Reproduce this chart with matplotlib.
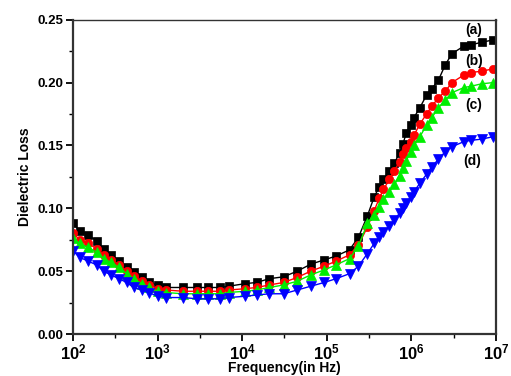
import matplotlib
matplotlib.use("Agg")
import matplotlib.pyplot as plt
from matplotlib.ticker import FixedLocator, MultipleLocator, FixedFormatter

plt.rcParams['font.family'] = ['Liberation Sans', 'DejaVu Sans']
plt.rcParams['mathtext.fontset'] = 'custom'
plt.rcParams['mathtext.rm'] = 'Liberation Sans:bold'
plt.rcParams['mathtext.bf'] = 'Liberation Sans:bold'

freq = [100, 120, 150, 190, 230, 280, 350, 430, 520, 650, 790, 1000, 1260,
        2000, 2900, 3900, 5500, 6900, 10700, 14800,
        20900, 30900, 44700, 64600, 93300, 129000, 186000,
        237000, 302000, 363000, 417000, 468000, 550000, 631000, 724000,
        794000, 871000, 977000, 1070000, 1260000, 1510000, 1740000,
        2090000, 2510000, 3020000, 4170000, 5010000, 6760000, 9330000]

loss_a = [0.088, 0.082, 0.079, 0.074, 0.068, 0.063, 0.058, 0.053, 0.049, 0.045, 0.041, 0.039, 0.037,
          0.037, 0.037, 0.037, 0.037, 0.038, 0.040, 0.041,
          0.044, 0.0455, 0.050, 0.0555, 0.059, 0.062, 0.067,
          0.077, 0.094, 0.109, 0.117, 0.123, 0.130, 0.136, 0.144,
          0.151, 0.160, 0.166, 0.172, 0.180, 0.190, 0.195,
          0.202, 0.214, 0.223, 0.229, 0.230, 0.232, 0.234]

loss_b = [0.080, 0.075, 0.072, 0.068, 0.063, 0.059, 0.055, 0.050, 0.046, 0.042, 0.039, 0.036, 0.035,
          0.034, 0.034, 0.034, 0.034, 0.035, 0.036, 0.037,
          0.039, 0.041, 0.045, 0.050, 0.054, 0.058, 0.063,
          0.071, 0.085, 0.098, 0.108, 0.115, 0.123, 0.130, 0.137,
          0.143, 0.148, 0.153, 0.158, 0.167, 0.175, 0.181,
          0.188, 0.193, 0.200, 0.206, 0.208, 0.209, 0.211]

loss_c = [0.076, 0.072, 0.069, 0.065, 0.060, 0.057, 0.053, 0.048, 0.044, 0.040, 0.037, 0.034, 0.033,
          0.032, 0.032, 0.032, 0.032, 0.033, 0.034, 0.035,
          0.037, 0.039, 0.042, 0.047, 0.051, 0.055, 0.060,
          0.070, 0.088, 0.095, 0.101, 0.107, 0.113, 0.119, 0.126,
          0.132, 0.138, 0.145, 0.150, 0.157, 0.166, 0.172,
          0.180, 0.186, 0.192, 0.196, 0.197, 0.199, 0.200]

loss_d = [0.066, 0.061, 0.058, 0.055, 0.050, 0.047, 0.044, 0.041, 0.037, 0.035, 0.033, 0.030, 0.029,
          0.029, 0.028, 0.028, 0.028, 0.029, 0.030, 0.031,
          0.032, 0.032, 0.035, 0.038, 0.041, 0.044, 0.048,
          0.054, 0.064, 0.072, 0.077, 0.081, 0.086, 0.091, 0.096,
          0.100, 0.104, 0.109, 0.113, 0.120, 0.127, 0.133,
          0.139, 0.145, 0.149, 0.153, 0.154, 0.155, 0.157]

series_labels = ['(a)', '(b)', '(c)', '(d)']
label_x = [5.5e6, 5.5e6, 5.5e6, 5.3e6]
label_y = [0.242, 0.217, 0.182, 0.138]

x_ticks = [1e2, 1e3, 1e4, 1e5, 1e6, 1e7]
x_ticklabels = [r'$\mathbf{10^{2}}$', r'$\mathbf{10^{3}}$', r'$\mathbf{10^{4}}$',
                r'$\mathbf{10^{5}}$', r'$\mathbf{10^{6}}$', r'$\mathbf{10^{7}}$']
y_ticks = [0.00, 0.05, 0.10, 0.15, 0.20, 0.25]
y_ticklabels = ['0.00', '0.05', '0.10', '0.15', '0.20', '0.25']

fig = plt.figure(figsize=(5.11, 3.76), dpi=100)
ax = fig.add_axes([0.1429, 0.1117, 0.8277, 0.8359])

styles = [
    (loss_a, '#000000', 's', 5.5),
    (loss_b, '#ff0000', 'o', 6.0),
    (loss_c, '#00ee00', '^', 6.5),
    (loss_d, '#0000ff', 'v', 6.5),
]
for vals, col, mk, ms in styles:
    ax.plot(freq, vals, color=col, lw=1.0, marker=mk, markersize=ms,
            markeredgecolor=col, markerfacecolor=col, markeredgewidth=0.5)

ax.set_xscale('log')
ax.set_xlim(1e2, 1e7)
ax.set_ylim(0.0, 0.25)

ax.xaxis.set_major_locator(FixedLocator(x_ticks))
ax.xaxis.set_major_formatter(FixedFormatter(x_ticklabels))
ax.xaxis.set_minor_locator(FixedLocator([10 ** (k + 0.5) for k in range(2, 7)]))
ax.xaxis.set_minor_formatter(plt.NullFormatter())
ax.yaxis.set_major_locator(FixedLocator(y_ticks))
ax.yaxis.set_major_formatter(FixedFormatter(y_ticklabels))
ax.yaxis.set_minor_locator(MultipleLocator(0.025))

ax.tick_params(axis='both', which='major', direction='out', length=5, width=1.3,
               top=False, right=False)
ax.tick_params(axis='both', which='minor', direction='out', length=3, width=1.0,
               top=False, right=False)
ax.tick_params(axis='x', which='major', labelsize=12, pad=1)
ax.tick_params(axis='y', which='major', labelsize=9.5, pad=2)
for lab in ax.get_yticklabels():
    lab.set_fontweight('bold')

ax.spines['left'].set_linewidth(1.6)
ax.spines['bottom'].set_linewidth(1.6)
ax.spines['top'].set_linewidth(1.0)
ax.spines['right'].set_linewidth(1.6)
for s in ax.spines.values():
    s.set_color('#333333')

ax.set_xlabel('Frequency(in Hz)', fontsize=10, fontweight='bold', labelpad=-1)
ax.set_ylabel('Dielectric Loss', fontsize=10, fontweight='bold', labelpad=4)

for t, lx, ly in zip(series_labels, label_x, label_y):
    ax.text(lx, ly, t, fontsize=10, fontweight='bold', ha='center', va='center')

fig.savefig('out.png', dpi=100)
